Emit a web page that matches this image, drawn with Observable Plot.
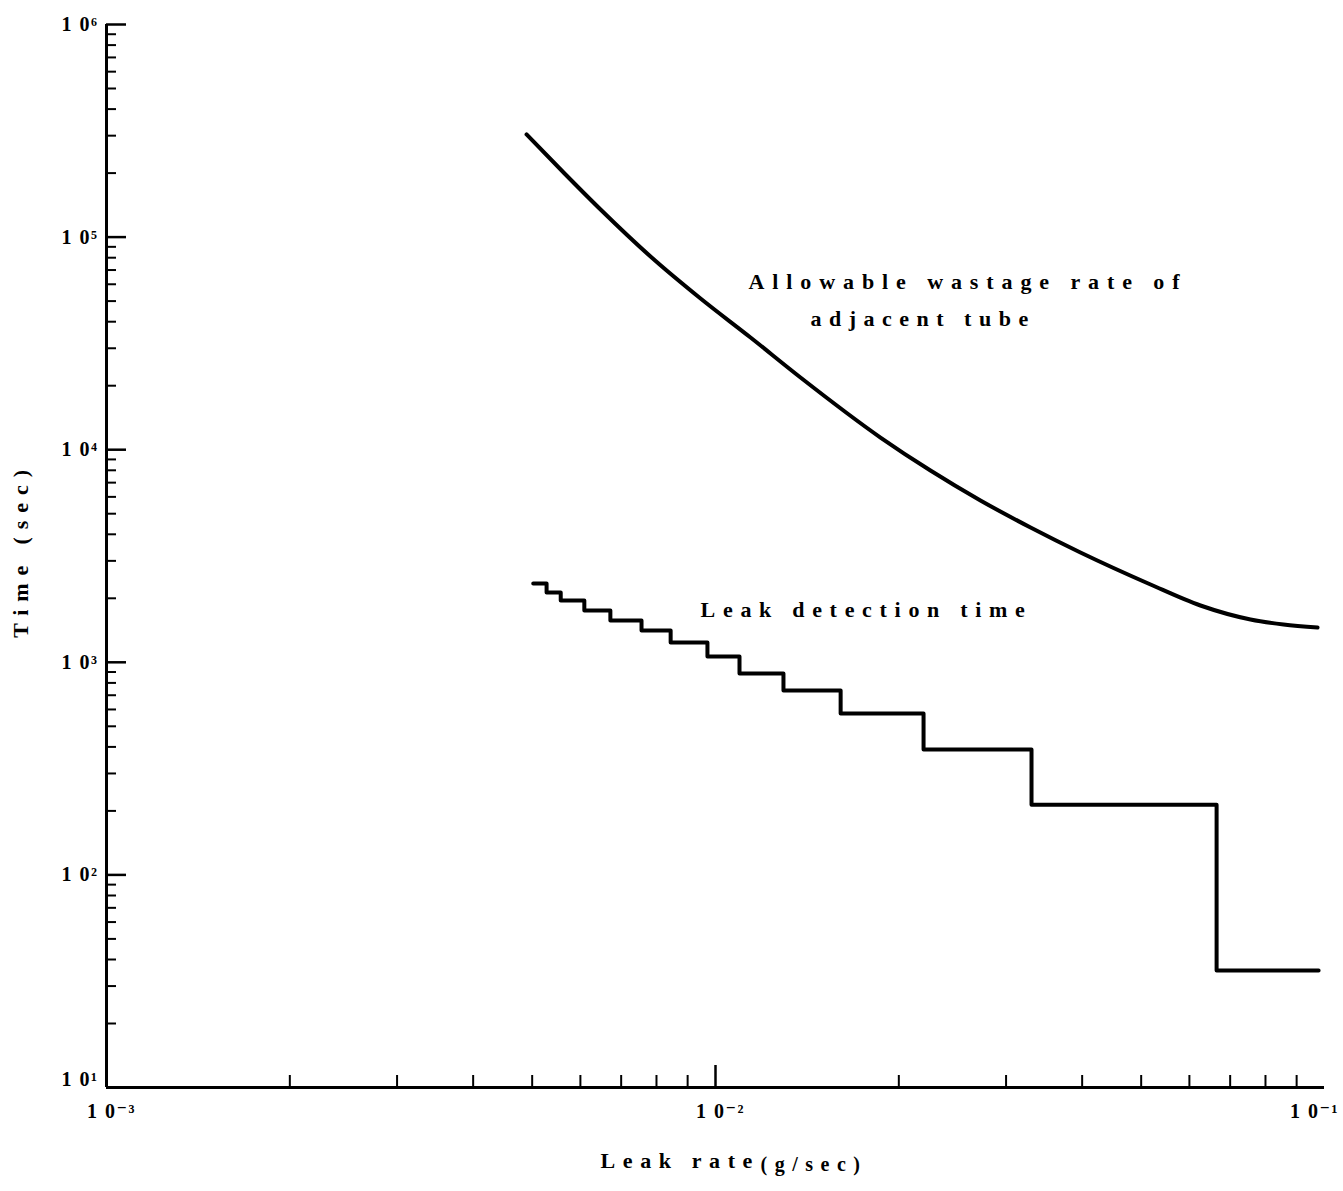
<!DOCTYPE html>
<html>
<head>
<meta charset="utf-8">
<script src="https://cdn.jsdelivr.net/npm/d3@7"></script>
<script src="https://cdn.jsdelivr.net/npm/@observablehq/plot@0.6"></script>
<style>
  html, body { margin: 0; padding: 0; background: #fff; overflow: hidden; }
  #chart svg { display: block; }
</style>
</head>
<body>
<div id="chart"></div>
<script>
// Allowable wastage rate of adjacent tube (smooth curve)
const wastageLeak = [4.895e-3, 5.63e-3, 6.475e-3, 7.822e-3, 9.45e-3, 1.1416e-2, 1.379e-2, 1.866e-2, 2.254e-2, 2.723e-2, 3.291e-2, 3.974e-2, 5.18e-2, 6.256e-2, 7.56e-2, 8.565e-2, 9.74e-2];
const wastageTime = [3.04e5, 2.013e5, 1.348e5, 8.10e4, 5.14e4, 3.37e4, 2.186e4, 1.141e4, 7.98e3, 5.77e3, 4.306e3, 3.285e3, 2.323e3, 1.85e3, 1.59e3, 1.506e3, 1.458e3];

// Leak detection time (step function: each level starts at the given leak rate)
const detectLeak = [5.02e-3, 5.28e-3, 5.57e-3, 6.09e-3, 6.72e-3, 7.56e-3, 8.44e-3, 9.70e-3, 1.095e-2, 1.293e-2, 1.605e-2, 2.196e-2, 3.303e-2, 6.65e-2, 9.78e-2];
const detectTime = [2350, 2130, 1954, 1753, 1573, 1411, 1240, 1065, 886, 737, 574, 389, 214, 35.5, 35.5];

// Axis ticks
const xLabelTicks = [1e-3, 1e-2];
const xLastTick = [1e-1];
const xMajorMarks = [1e-2];
const xMinor = [2e-3, 3e-3, 4e-3, 5e-3, 6e-3, 7e-3, 8e-3, 9e-3, 2e-2, 3e-2, 4e-2, 5e-2, 6e-2, 7e-2, 8e-2, 9e-2];
const yLabelTicks = [1e2, 1e3, 1e4, 1e5, 1e6];
const yBottomTick = [1e1];
const yMajor = [1e1, 1e2, 1e3, 1e4, 1e5, 1e6];
const yMinorMantissas = [2, 3, 4, 5, 6, 7, 8, 9];
const yMinorDecades = [1e1, 1e2, 1e3, 1e4, 1e5];
const yMinor = yMinorDecades.flatMap(d => yMinorMantissas.map(m => m * d));

// Texts
const xTitleMain = "Leak rate";
const xTitleUnit = "(g/sec)";
const yTitle = "Time (sec)";
const wastageLabel = ["Allowable wastage rate of", "adjacent tube"];
const detectLabel = "Leak detection time";

const wastage = wastageLeak.map((x, i) => ({x, y: wastageTime[i]}));
const detect = detectLeak.map((x, i) => ({x, y: detectTime[i]}));

const supMap = {"-": "\u207B", "0": "\u2070", "1": "\u00B9", "2": "\u00B2", "3": "\u00B3", "4": "\u2074", "5": "\u2075", "6": "\u2076", "7": "\u2077", "8": "\u2078", "9": "\u2079"};
const fmt = d => "1 0" + String(Math.round(Math.log10(d))).split("").map(c => supMap[c]).join("");

const font = "'Liberation Serif', 'DejaVu Serif', serif";

const chart = Plot.plot({
  width: 1343,
  height: 1191,
  marginLeft: 106,
  marginRight: 19,
  marginTop: 24,
  marginBottom: 104,
  style: {fontFamily: font, fontWeight: "bold", color: "#000", background: "#fff"},
  x: {type: "log", domain: [1e-3, 1e-1]},
  y: {type: "log", domain: [10, 1e6]},
  marks: [
    // y axis labels and inward ticks
    Plot.axisY({ticks: yLabelTicks, tickSize: 0, tickPadding: 8, tickFormat: fmt, fontSize: 20, label: null}),
    Plot.axisY({ticks: yBottomTick, tickSize: 0, tickPadding: 8, tickFormat: fmt, fontSize: 20, label: null, dy: -8}),
    Plot.axisY({ticks: yMajor, tickSize: -20, tickFormat: () => "", label: null, strokeWidth: 2.5}),
    Plot.axisY({ticks: yMinor, tickSize: -10, tickFormat: () => "", label: null, strokeWidth: 2}),
    // x axis labels and inward ticks
    Plot.axisX({ticks: xLabelTicks, tickSize: 0, tickPadding: 16, tickFormat: fmt, fontSize: 20, label: null, dx: 5}),
    Plot.axisX({ticks: xLastTick, tickSize: 0, tickPadding: 16, tickFormat: fmt, fontSize: 20, label: null, dx: -10}),
    Plot.axisX({ticks: xMajorMarks, tickSize: -22, tickFormat: () => "", label: null, strokeWidth: 2.5}),
    Plot.axisX({ticks: xMinor, tickSize: -12, tickFormat: () => "", label: null, strokeWidth: 2}),
    Plot.ruleX([1e-3], {strokeWidth: 3}),
    Plot.ruleY([10], {strokeWidth: 3}),
    // curves
    Plot.line(wastage, {x: "x", y: "y", curve: "monotone-x", strokeWidth: 4, strokeLinecap: "round"}),
    Plot.line(detect, {x: "x", y: "y", curve: "step-after", strokeWidth: 4}),
    // annotations
    Plot.text([wastageLabel[0]], {x: 1.133e-2, y: 6.12e4, text: d => d, textAnchor: "start", fontSize: 22}),
    Plot.text([wastageLabel[1]], {x: 1.432e-2, y: 4.14e4, text: d => d, textAnchor: "start", fontSize: 22}),
    Plot.text([detectLabel], {x: 9.45e-3, y: 1772, text: d => d, textAnchor: "start", fontSize: 22}),
    // axis titles
    Plot.text([yTitle], {frameAnchor: "left", textAnchor: "middle", dx: -86, dy: -6, rotate: -90, text: d => d, fontSize: 22}),
    Plot.text([xTitleMain], {frameAnchor: "bottom", dx: -115, dy: 80, text: d => d, textAnchor: "start", fontSize: 22}),
    Plot.text([xTitleUnit], {frameAnchor: "bottom", dx: 45, dy: 83, text: d => d, textAnchor: "start", fontSize: 20})
  ]
});

// letter spacing of the typewriter-like lettering
const spacing = new Map([
  [wastageLabel[0], 7.9], [wastageLabel[1], 7.5], [detectLabel, 7.7],
  [yTitle, 7.9], [xTitleMain, 7.6], [xTitleUnit, 7.5]
]);
d3.select(chart).selectAll("text").each(function () {
  const t = this.textContent;
  if (spacing.has(t)) this.setAttribute("letter-spacing", spacing.get(t));
  else if (t.startsWith("1 0")) this.setAttribute("letter-spacing", 1.5);
});
document.getElementById("chart").appendChild(chart);
</script>
</body>
</html>
